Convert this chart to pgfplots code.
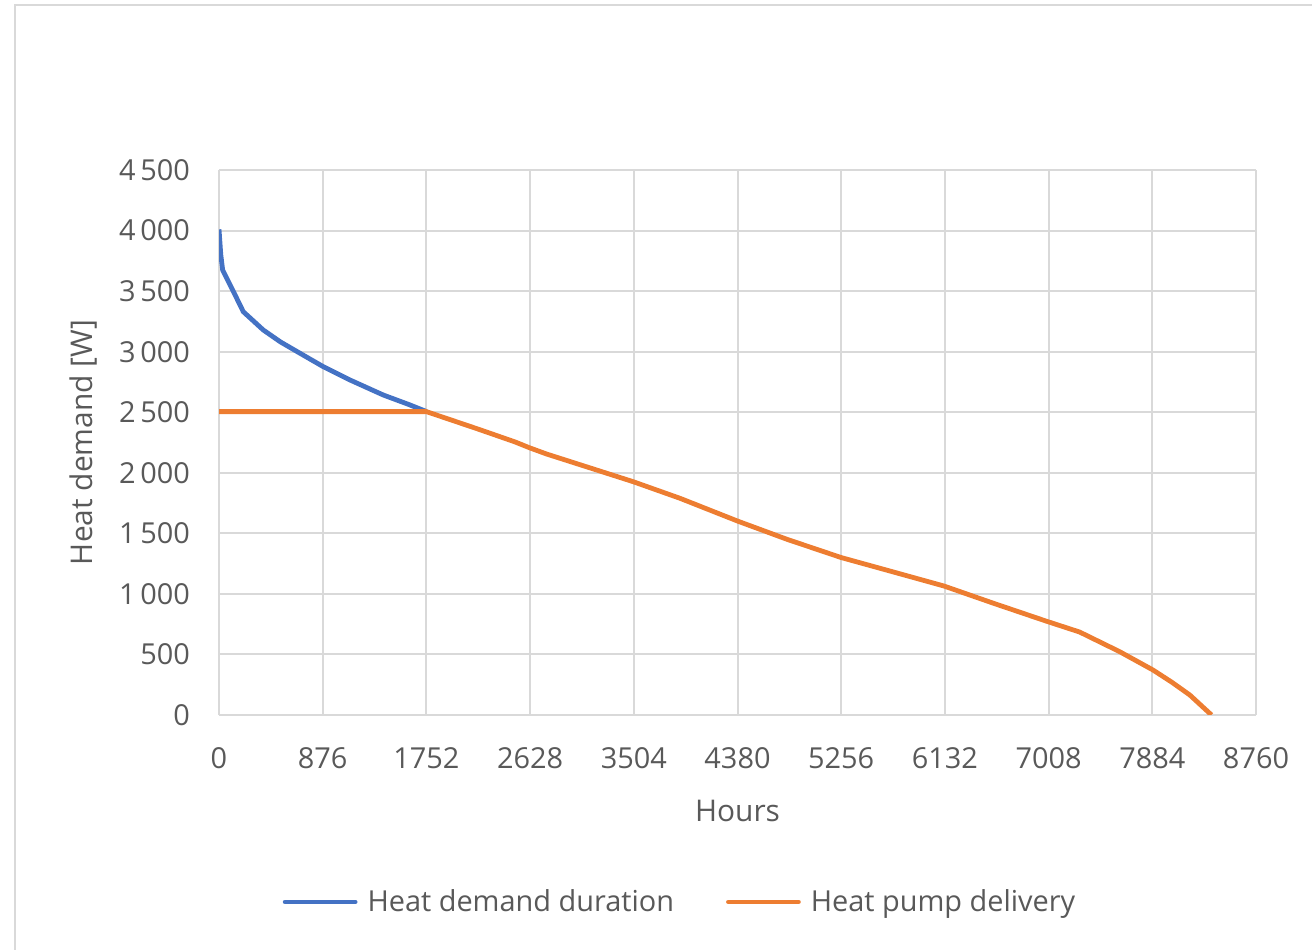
\documentclass[border=0pt]{standalone}
\usepackage{pgfplots}
\pgfplotsset{compat=1.18}
\usepackage{fontspec}
\setmainfont{Open Sans}
\definecolor{cblue}{HTML}{4472C4}
\definecolor{corange}{HTML}{ED7D31}
\definecolor{cgrid}{HTML}{D9D9D9}
\definecolor{ctext}{HTML}{595959}
\begin{document}
\begin{tikzpicture}
\path[use as bounding box] (0,0) rectangle (656bp,475bp);
\draw[cgrid, line width=1bp] (7.5bp,0) -- (7.5bp,472.5bp) -- (656bp,472.5bp);
\begin{axis}[
  at={(109.5bp,117.5bp)}, anchor=south west,
  scale only axis, width=518.5bp, height=272.5bp,
  xmin=0, xmax=8760, ymin=0, ymax=4500,
  xtick={0,876,1752,2628,3504,4380,5256,6132,7008,7884,8760},
  ytick={0,500,...,4500},
  /pgf/number format/assume math mode=true,
  xticklabel style={/pgf/number format/1000 sep={}},
  yticklabel style={/pgf/number format/1000 sep={\,}},
  scaled ticks=false,
  tick label style={font=\fontsize{14.5}{17}\selectfont, text=ctext},
  yticklabel style={xshift=-11bp},
  xticklabel style={yshift=-13bp},
  major tick length=0pt,
  grid=major,
  grid style={cgrid, line width=1bp},
  axis line style={cgrid, line width=1bp},
  axis x line*=bottom, axis y line*=left,
  xlabel={Hours}, ylabel={Heat demand [W]},
  label style={font=\fontsize{15}{18}\selectfont, text=ctext},
  xlabel style={yshift=-8.5bp},
  ylabel style={yshift=4bp},
  legend columns=2,
  legend style={draw=none, at={(0.4455,-0.343)}, anchor=center,
    font=\fontsize{14.5}{17}\selectfont, text=ctext,
    /tikz/every even column/.append style={column sep=24bp}},
  legend image code/.code={\draw[#1, line width=2.4bp, line cap=round] (0bp,0bp) -- (35bp,0bp); \path (38bp,0bp);},
  every axis plot/.append style={line width=2.4bp, line join=round},
]
\addplot[cblue] coordinates {
(0,4010) (15,3800) (31,3674) (120,3500) (205,3330) (374,3179) (520,3080)
(684,2987) (881,2876) (1107,2766) (1388,2642) (1600,2565) (1754,2505)
};
\addlegendentry{Heat demand duration}
\addplot[corange] coordinates {
(0,2505) (1752,2505) (2191,2360) (2500,2255) (2627,2205) (2767,2155) (3500,1926) (3895,1789)
(4384,1600) (4800,1450) (5256,1300) (5700,1180) (6124,1065) (6550,920)
(6988,775) (7270,685) (7608,523) (7889,372) (8050,270) (8201,165) (8384,0)
};
\addlegendentry{Heat pump delivery}
\end{axis}
\end{tikzpicture}
\end{document}
